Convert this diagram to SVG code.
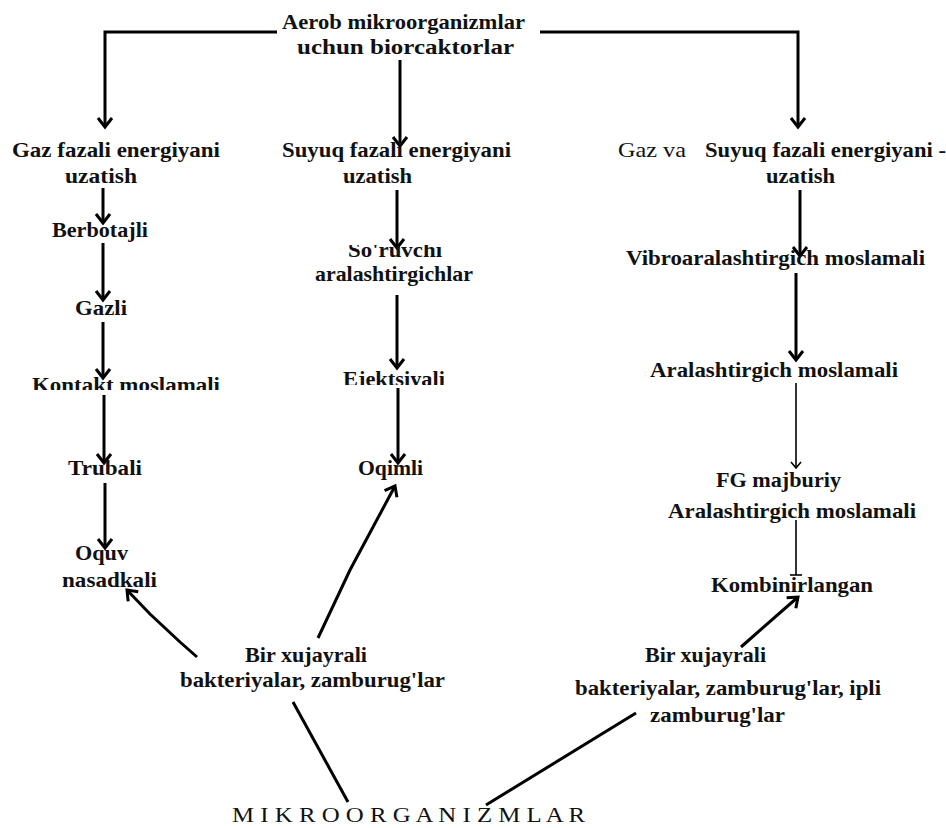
<svg xmlns="http://www.w3.org/2000/svg" width="946" height="828" viewBox="0 0 946 828">
<defs>
<style>
text{font-family:"Liberation Serif","Times New Roman",serif;font-size:22px;font-weight:bold;fill:#111}
text.reg{font-weight:normal}
text.mk{font-size:20px}
.c{fill:none;stroke:#000;stroke-width:3;stroke-linecap:butt;stroke-linejoin:miter}
.t{fill:none;stroke:#000;stroke-width:1.6}
</style>
<marker id="ah" markerUnits="userSpaceOnUse" markerWidth="20" markerHeight="20" viewBox="-12 -10 14 20" refX="0" refY="0" orient="auto">
<path d="M-9,-7 L0,0 L-9,7" fill="none" stroke="#000" stroke-width="3"/>
</marker>
<marker id="ahs" markerUnits="userSpaceOnUse" markerWidth="16" markerHeight="16" viewBox="-10 -8 12 16" refX="0" refY="0" orient="auto">
<path d="M-6,-5 L0,0 L-6,5" fill="none" stroke="#000" stroke-width="1.6"/>
</marker>
<marker id="tee" markerUnits="userSpaceOnUse" markerWidth="16" markerHeight="16" viewBox="-8 -8 16 16" refX="0" refY="0" orient="auto">
<path d="M0,-6 L0,6" fill="none" stroke="#000" stroke-width="1.6"/>
</marker>
<clipPath id="clipK"><rect x="0" y="360" width="300" height="30"/></clipPath>
<clipPath id="clipE"><rect x="320" y="360" width="160" height="25"/></clipPath>
<clipPath id="clipS"><rect x="320" y="245" width="160" height="20"/></clipPath>
</defs>
<rect width="946" height="828" fill="#fff"/>

<g id="connectors">
<polyline class="c" points="277,32 105,32 105,127" marker-end="url(#ah)"/>
<polyline class="c" points="540,32 798,32 798,127" marker-end="url(#ah)"/>
<line class="c" x1="400" y1="60" x2="400" y2="146" marker-end="url(#ah)"/>
<line class="c" x1="103" y1="188" x2="103" y2="223" marker-end="url(#ah)"/>
<line class="c" x1="103" y1="243" x2="103" y2="300" marker-end="url(#ah)"/>
<line class="c" x1="103" y1="322" x2="103" y2="378" marker-end="url(#ah)"/>
<line class="c" x1="104" y1="395" x2="104" y2="463" marker-end="url(#ah)"/>
<line class="c" x1="105" y1="483" x2="105" y2="548" marker-end="url(#ah)"/>
<line class="c" x1="397" y1="190" x2="397" y2="248" marker-end="url(#ah)"/>
<line class="c" x1="397" y1="295" x2="397" y2="368" marker-end="url(#ah)"/>
<line class="c" x1="398" y1="388" x2="398" y2="463" marker-end="url(#ah)"/>
<line class="c" x1="800" y1="190" x2="800" y2="256" marker-end="url(#ah)"/>
<line class="c" x1="796" y1="273" x2="796" y2="360" marker-end="url(#ah)"/>
<line class="t" x1="796" y1="383" x2="796" y2="468" marker-end="url(#ahs)"/>
<line class="t" x1="796" y1="520" x2="796" y2="575" marker-end="url(#tee)"/>
<path class="c" d="M197,657 L180,642 L150,614 L127,590" marker-end="url(#ah)"/>
<path class="c" d="M318,638 L350,570 L395,486" marker-end="url(#ah)"/>
<line class="c" x1="741" y1="647" x2="798" y2="597" marker-end="url(#ah)"/>
<line class="c" x1="293" y1="702" x2="348" y2="802"/>
<line class="c" x1="486" y1="805" x2="636" y2="713"/>
</g>

<g id="n_aerob">
<text x="282" y="29" textLength="243" lengthAdjust="spacingAndGlyphs">Aerob mikroorganizmlar</text>
<text x="297" y="54" textLength="217" lengthAdjust="spacingAndGlyphs">uchun biorcaktorlar</text>
</g>

<g id="n_gaz">
<text x="12" y="157" textLength="208" lengthAdjust="spacingAndGlyphs">Gaz fazali energiyani</text>
<text x="65" y="183" textLength="72" lengthAdjust="spacingAndGlyphs">uzatish</text>
</g>
<g id="n_berbotajli"><text x="52" y="237" textLength="96" lengthAdjust="spacingAndGlyphs">Berbotajli</text></g>
<g id="n_gazli"><text x="75" y="315" textLength="52" lengthAdjust="spacingAndGlyphs">Gazli</text></g>
<g id="n_kontakt" clip-path="url(#clipK)"><text x="32" y="392" textLength="188" lengthAdjust="spacingAndGlyphs">Kontakt moslamali</text></g>
<g id="n_trubali"><text x="68" y="475" textLength="74" lengthAdjust="spacingAndGlyphs">Trubali</text></g>
<g id="n_oquv">
<text x="75" y="560" textLength="53" lengthAdjust="spacingAndGlyphs">Oquv</text>
<text x="62" y="587" textLength="95" lengthAdjust="spacingAndGlyphs">nasadkali</text>
</g>

<g id="n_suyuq">
<text x="282" y="157" textLength="229" lengthAdjust="spacingAndGlyphs">Suyuq fazali energiyani</text>
<text x="343" y="183" textLength="69" lengthAdjust="spacingAndGlyphs">uzatish</text>
</g>
<g id="n_soruvchi">
<g clip-path="url(#clipS)"><text x="348" y="257" textLength="94" lengthAdjust="spacingAndGlyphs">So'ruvchi</text></g>
<text x="315" y="281" textLength="158" lengthAdjust="spacingAndGlyphs">aralashtirgichlar</text>
</g>
<g id="n_ejektsiyali" clip-path="url(#clipE)"><text x="343" y="386" textLength="102" lengthAdjust="spacingAndGlyphs">Ejektsiyali</text></g>
<g id="n_oqimli"><text x="358" y="475" textLength="65" lengthAdjust="spacingAndGlyphs">Oqimli</text></g>

<g id="n_gazva_suyuq">
<text class="reg" x="618" y="157" textLength="68" lengthAdjust="spacingAndGlyphs">Gaz va</text>
<text x="705" y="157" textLength="241" lengthAdjust="spacingAndGlyphs">Suyuq fazali energiyani -</text>
<text x="766" y="183" textLength="69" lengthAdjust="spacingAndGlyphs">uzatish</text>
</g>
<g id="n_vibro"><text x="626" y="265" textLength="299" lengthAdjust="spacingAndGlyphs">Vibroaralashtirgich moslamali</text></g>
<g id="n_aralash"><text x="650" y="377" textLength="248" lengthAdjust="spacingAndGlyphs">Aralashtirgich moslamali</text></g>
<g id="n_fg">
<text x="716" y="487" textLength="125" lengthAdjust="spacingAndGlyphs">FG majburiy</text>
<text x="668" y="518" textLength="248" lengthAdjust="spacingAndGlyphs">Aralashtirgich moslamali</text>
</g>
<g id="n_kombinirlangan"><text x="711" y="592" textLength="162" lengthAdjust="spacingAndGlyphs">Kombinirlangan</text></g>

<g id="n_bir_left">
<text x="245" y="662" textLength="122" lengthAdjust="spacingAndGlyphs">Bir xujayrali</text>
<text x="180" y="687" textLength="265" lengthAdjust="spacingAndGlyphs">bakteriyalar, zamburug'lar</text>
</g>
<g id="n_bir_right">
<text x="645" y="662" textLength="121" lengthAdjust="spacingAndGlyphs">Bir xujayrali</text>
<text x="575" y="695" textLength="306" lengthAdjust="spacingAndGlyphs">bakteriyalar, zamburug'lar, ipli</text>
<text x="650" y="722" textLength="135" lengthAdjust="spacingAndGlyphs">zamburug'lar</text>
</g>
<g id="n_mikro">
<text class="reg mk" x="232" y="822" textLength="353" lengthAdjust="spacingAndGlyphs">M I K R O O R G A N I Z M L A R</text>
</g>
</svg>
